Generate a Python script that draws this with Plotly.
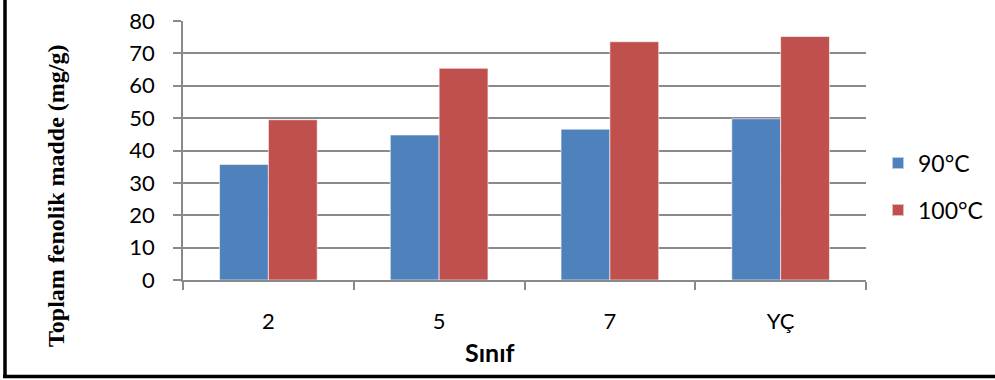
import plotly.graph_objects as go

# Data: total phenolic content by class and brewing temperature
categories = ["2", "5", "7", "YÇ"]
series_names = ["90°C", "100°C"]
values_90 = [35.7, 44.8, 46.6, 49.8]
values_100 = [49.5, 65.4, 73.6, 75.2]
y_ticks = [0, 10, 20, 30, 40, 50, 60, 70, 80]

colors = ["#4F81BD", "#C0504D"]
W, H = 995, 380
L, R, T, B = 183, 129, 21, 100  # plot area margins in px

pw, ph = W - L - R, H - T - B


def px_x(p):
    return (p - L) / pw


def px_y(p):
    return (H - B - p) / ph


# one legend box per series so the entries can sit further apart
legend_ids = ["legend", "legend2"]
legend_centers = [163, 210]

fig = go.Figure()
for name, vals, col, lg in zip(series_names, [values_90, values_100], colors, legend_ids):
    fig.add_trace(go.Bar(
        x=categories, y=vals, name=name, legend=lg,
        marker=dict(color=col, line=dict(color="rgba(255,255,255,0.6)", width=1)),
    ))

legend_style = dict(xanchor="left", yanchor="middle",
                    font=dict(family="Lato", size=23, color="black"),
                    itemsizing="constant", itemwidth=30,
                    bgcolor="rgba(0,0,0,0)")

grid = "#8a8a8a"
fig.update_layout(
    width=W, height=H,
    margin=dict(l=L, r=R, t=T, b=B, pad=0, autoexpand=False),
    paper_bgcolor="white", plot_bgcolor="white",
    barmode="group", bargap=0.428, bargroupgap=0,
    font=dict(family="Lato", size=22, color="black"),
    showlegend=True,
    legend=dict(x=px_x(878), y=px_y(legend_centers[0]), **legend_style),
    legend2=dict(x=px_x(878), y=px_y(legend_centers[1]), **legend_style),
    xaxis=dict(
        type="category", showgrid=False, showline=True, linecolor=grid, linewidth=1.5,
        ticks="outside", tickson="boundaries", ticklen=8, tickcolor=grid, tickwidth=1.5,
        ticklabelstandoff=21, tickfont=dict(family="Lato", size=22),
    ),
    yaxis=dict(
        range=[0, 80], tickvals=y_ticks, showgrid=True, gridcolor=grid, gridwidth=1.5,
        showline=True, linecolor=grid, linewidth=1.5, zeroline=False,
        ticks="outside", ticklen=8, tickcolor=grid, tickwidth=1.5,
        ticklabelstandoff=14, tickfont=dict(family="Lato", size=22),
    ),
    annotations=[
        dict(text="<b>Sınıf</b>", xref="paper", yref="paper",
             x=px_x(490), y=px_y(352), xanchor="center", yanchor="middle",
             showarrow=False, font=dict(family="Lato", size=25, color="black")),
        dict(text="<b>Toplam fenolik madde (mg/g)</b>", xref="paper", yref="paper",
             x=px_x(56), y=px_y(196), xanchor="center", yanchor="middle",
             textangle=-90, showarrow=False,
             font=dict(family="Liberation Serif", size=24, color="black")),
    ],
    shapes=[
        dict(type="line", xref="paper", yref="paper",
             x0=px_x(5), x1=px_x(5), y0=px_y(0), y1=px_y(378),
             line=dict(color="black", width=3.5)),
        dict(type="line", xref="paper", yref="paper",
             x0=px_x(3), x1=px_x(995), y0=px_y(376.5), y1=px_y(376.5),
             line=dict(color="black", width=3.5)),
    ],
)

fig.write_html("out.html")
